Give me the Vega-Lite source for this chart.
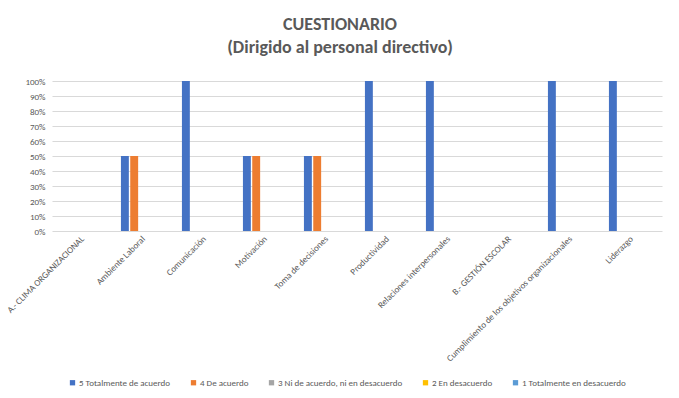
{
  "$schema": "https://vega.github.io/schema/vega-lite/v6.json",
  "width": 610,
  "height": 150,
  "autosize": {"type": "none"},
  "padding": {"left": 52, "top": 81, "right": 17, "bottom": 167},
  "background": "white",
  "title": {
    "text": ["CUESTIONARIO", "(Dirigido al personal directivo)"],
    "anchor": "middle",
    "frame": "group",
    "dx": -17,
    "offset": 20,
    "font": "Carlito, Liberation Sans",
    "fontSize": 18,
    "fontWeight": "bold",
    "color": "#595959",
    "lineHeight": 23
  },
  "data": {
    "values": [
      {"categoria": "A.- CLIMA ORGANIZACIONAL", "respuesta": "5 Totalmente de acuerdo", "valor": 0},
      {"categoria": "A.- CLIMA ORGANIZACIONAL", "respuesta": "4 De acuerdo", "valor": 0},
      {"categoria": "A.- CLIMA ORGANIZACIONAL", "respuesta": "3 Ni de acuerdo, ni en desacuerdo", "valor": 0},
      {"categoria": "A.- CLIMA ORGANIZACIONAL", "respuesta": "2 En desacuerdo", "valor": 0},
      {"categoria": "A.- CLIMA ORGANIZACIONAL", "respuesta": "1 Totalmente en desacuerdo", "valor": 0},
      {"categoria": "Ambiente Laboral", "respuesta": "5 Totalmente de acuerdo", "valor": 0.5},
      {"categoria": "Ambiente Laboral", "respuesta": "4 De acuerdo", "valor": 0.5},
      {"categoria": "Ambiente Laboral", "respuesta": "3 Ni de acuerdo, ni en desacuerdo", "valor": 0},
      {"categoria": "Ambiente Laboral", "respuesta": "2 En desacuerdo", "valor": 0},
      {"categoria": "Ambiente Laboral", "respuesta": "1 Totalmente en desacuerdo", "valor": 0},
      {"categoria": "Comunicación", "respuesta": "5 Totalmente de acuerdo", "valor": 1},
      {"categoria": "Comunicación", "respuesta": "4 De acuerdo", "valor": 0},
      {"categoria": "Comunicación", "respuesta": "3 Ni de acuerdo, ni en desacuerdo", "valor": 0},
      {"categoria": "Comunicación", "respuesta": "2 En desacuerdo", "valor": 0},
      {"categoria": "Comunicación", "respuesta": "1 Totalmente en desacuerdo", "valor": 0},
      {"categoria": "Motivación", "respuesta": "5 Totalmente de acuerdo", "valor": 0.5},
      {"categoria": "Motivación", "respuesta": "4 De acuerdo", "valor": 0.5},
      {"categoria": "Motivación", "respuesta": "3 Ni de acuerdo, ni en desacuerdo", "valor": 0},
      {"categoria": "Motivación", "respuesta": "2 En desacuerdo", "valor": 0},
      {"categoria": "Motivación", "respuesta": "1 Totalmente en desacuerdo", "valor": 0},
      {"categoria": "Toma de decisiones", "respuesta": "5 Totalmente de acuerdo", "valor": 0.5},
      {"categoria": "Toma de decisiones", "respuesta": "4 De acuerdo", "valor": 0.5},
      {"categoria": "Toma de decisiones", "respuesta": "3 Ni de acuerdo, ni en desacuerdo", "valor": 0},
      {"categoria": "Toma de decisiones", "respuesta": "2 En desacuerdo", "valor": 0},
      {"categoria": "Toma de decisiones", "respuesta": "1 Totalmente en desacuerdo", "valor": 0},
      {"categoria": "Productividad", "respuesta": "5 Totalmente de acuerdo", "valor": 1},
      {"categoria": "Productividad", "respuesta": "4 De acuerdo", "valor": 0},
      {"categoria": "Productividad", "respuesta": "3 Ni de acuerdo, ni en desacuerdo", "valor": 0},
      {"categoria": "Productividad", "respuesta": "2 En desacuerdo", "valor": 0},
      {"categoria": "Productividad", "respuesta": "1 Totalmente en desacuerdo", "valor": 0},
      {"categoria": "Relaciones interpersonales", "respuesta": "5 Totalmente de acuerdo", "valor": 1},
      {"categoria": "Relaciones interpersonales", "respuesta": "4 De acuerdo", "valor": 0},
      {"categoria": "Relaciones interpersonales", "respuesta": "3 Ni de acuerdo, ni en desacuerdo", "valor": 0},
      {"categoria": "Relaciones interpersonales", "respuesta": "2 En desacuerdo", "valor": 0},
      {"categoria": "Relaciones interpersonales", "respuesta": "1 Totalmente en desacuerdo", "valor": 0},
      {"categoria": "B.- GESTIÓN ESCOLAR", "respuesta": "5 Totalmente de acuerdo", "valor": 0},
      {"categoria": "B.- GESTIÓN ESCOLAR", "respuesta": "4 De acuerdo", "valor": 0},
      {"categoria": "B.- GESTIÓN ESCOLAR", "respuesta": "3 Ni de acuerdo, ni en desacuerdo", "valor": 0},
      {"categoria": "B.- GESTIÓN ESCOLAR", "respuesta": "2 En desacuerdo", "valor": 0},
      {"categoria": "B.- GESTIÓN ESCOLAR", "respuesta": "1 Totalmente en desacuerdo", "valor": 0},
      {"categoria": "Cumplimiento de los objetivos organizacionales", "respuesta": "5 Totalmente de acuerdo", "valor": 1},
      {"categoria": "Cumplimiento de los objetivos organizacionales", "respuesta": "4 De acuerdo", "valor": 0},
      {"categoria": "Cumplimiento de los objetivos organizacionales", "respuesta": "3 Ni de acuerdo, ni en desacuerdo", "valor": 0},
      {"categoria": "Cumplimiento de los objetivos organizacionales", "respuesta": "2 En desacuerdo", "valor": 0},
      {"categoria": "Cumplimiento de los objetivos organizacionales", "respuesta": "1 Totalmente en desacuerdo", "valor": 0},
      {"categoria": "Liderazgo", "respuesta": "5 Totalmente de acuerdo", "valor": 1},
      {"categoria": "Liderazgo", "respuesta": "4 De acuerdo", "valor": 0},
      {"categoria": "Liderazgo", "respuesta": "3 Ni de acuerdo, ni en desacuerdo", "valor": 0},
      {"categoria": "Liderazgo", "respuesta": "2 En desacuerdo", "valor": 0},
      {"categoria": "Liderazgo", "respuesta": "1 Totalmente en desacuerdo", "valor": 0}
    ]
  },
  "mark": {"type": "bar"},
  "encoding": {
    "x": {
      "field": "categoria",
      "type": "nominal",
      "sort": null,
      "scale": {"paddingInner": 0.26, "paddingOuter": 0.13},
      "axis": {
        "title": null,
        "labelAngle": -45,
        "labelAlign": "right",
        "labelBaseline": "middle",
        "labelPadding": 6,
        "labelFont": "Carlito, Liberation Sans",
        "labelFontSize": 9,
        "labelColor": "#595959",
        "labelLimit": 300,
        "domain": false,
        "ticks": false,
        "grid": false
      }
    },
    "xOffset": {
      "field": "respuesta",
      "type": "nominal",
      "sort": null,
      "scale": {
        "domain": ["5 Totalmente de acuerdo", "4 De acuerdo", "3 Ni de acuerdo, ni en desacuerdo", "2 En desacuerdo", "1 Totalmente en desacuerdo"],
        "paddingInner": 0.15
      }
    },
    "y": {
      "field": "valor",
      "type": "quantitative",
      "scale": {"domain": [0, 1]},
      "axis": {
        "title": null,
        "values": [0, 0.1, 0.2, 0.3, 0.4, 0.5, 0.6, 0.7, 0.8, 0.9, 1],
        "format": ".0%",
        "domain": false,
        "ticks": false,
        "labelPadding": 7,
        "labelFont": "Carlito, Liberation Sans",
        "labelFontSize": 9,
        "labelColor": "#595959",
        "gridColor": "#D9D9D9",
        "gridWidth": 1
      }
    },
    "color": {
      "field": "respuesta",
      "type": "nominal",
      "scale": {
        "domain": ["5 Totalmente de acuerdo", "4 De acuerdo", "3 Ni de acuerdo, ni en desacuerdo", "2 En desacuerdo", "1 Totalmente en desacuerdo"],
        "range": ["#4472C4", "#ED7D31", "#A5A5A5", "#FFC000", "#5B9BD5"]
      },
      "legend": {
        "title": null,
        "orient": "none",
        "direction": "horizontal",
        "legendX": 16,
        "legendY": 297,
        "symbolType": "square",
        "symbolSize": 28,
        "symbolStrokeWidth": 0,
        "labelFont": "Carlito, Liberation Sans",
        "labelFontSize": 9,
        "labelColor": "#595959",
        "columnPadding": 18,
        "labelOffset": 2
      }
    }
  },
  "config": {
    "view": {"stroke": null}
  }
}
